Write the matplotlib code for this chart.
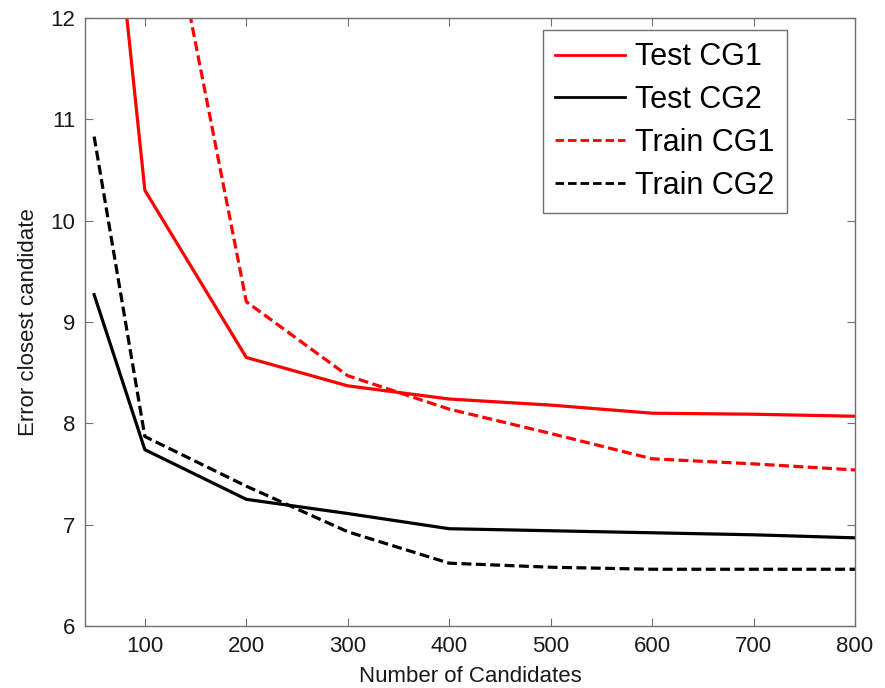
import matplotlib
matplotlib.use("Agg")
import matplotlib.pyplot as plt

plt.rcParams['font.family'] = ['Liberation Sans', 'DejaVu Sans']

x = [50, 100, 200, 300, 400, 500, 600, 700, 800]
x_train1 = [100, 200, 300, 400, 500, 600, 700, 800]
test_cg1 = [15.1, 10.30, 8.65, 8.37, 8.24, 8.18, 8.10, 8.09, 8.07]
test_cg2 = [9.27, 7.74, 7.25, 7.11, 6.96, 6.94, 6.92, 6.90, 6.87]
train_cg1 = [14.3, 9.20, 8.47, 8.14, 7.90, 7.65, 7.60, 7.54]
train_cg2 = [10.83, 7.87, 7.38, 6.93, 6.62, 6.58, 6.56, 6.56, 6.56]
labels = ["Test CG1", "Test CG2", "Train CG1", "Train CG2"]

fig = plt.figure(figsize=(8.85, 6.88), dpi=100)
ax = fig.add_axes([85/885, 1-626/688, 770/885, 608/688])

lw = 2.3
dash = (0, (3.1, 1.4))
ax.plot(x, test_cg1, color='#ff0000', lw=lw, label=labels[0])
ax.plot(x, test_cg2, color='black', lw=lw, label=labels[1])
ax.plot(x_train1, train_cg1, color='#ff0000', lw=lw, ls=dash, label=labels[2])
ax.plot(x, train_cg2, color='black', lw=lw, ls=dash, label=labels[3])

ax.set_xlim(41, 800)
ax.set_ylim(6, 12)
ax.set_xticks([100, 200, 300, 400, 500, 600, 700, 800])
ax.set_yticks([6, 7, 8, 9, 10, 11, 12])
ax.tick_params(direction='in', top=True, right=True, length=6, width=0.8,
               color='#707070', labelsize=16, labelcolor='#1a1a1a', pad=7)
for s in ax.spines.values():
    s.set_color('#707070')
    s.set_linewidth(1.0)
ax.set_xlabel("Number of Candidates", fontsize=16, color='#1a1a1a', labelpad=7)
ax.set_ylabel("Error closest candidate", fontsize=16, color='#1a1a1a', labelpad=8)

leg = ax.legend(loc='upper right', bbox_to_anchor=((787-85)/770, 1-12/608),
                borderaxespad=0, fontsize=22, handlelength=2.3, handletextpad=0.33,
                labelspacing=0.42, borderpad=0.4, fancybox=False, framealpha=1)
leg.get_frame().set_edgecolor('#707070')
leg.get_frame().set_linewidth(1.0)
for h in leg.get_lines():
    h.set_linewidth(2.0)

fig.savefig("out.png", dpi=100)
